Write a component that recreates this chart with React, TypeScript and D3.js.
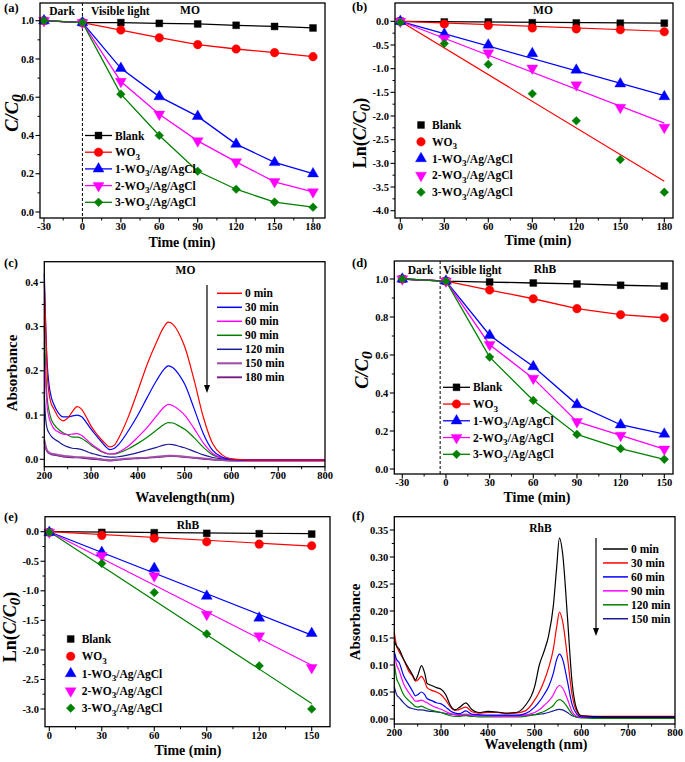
import React from 'react';
import * as d3 from 'd3';

// ---------------- data ----------------
const SERIES_NAMES = ['Blank', 'WO3', '1-WO3/Ag/AgCl', '2-WO3/Ag/AgCl', '3-WO3/Ag/AgCl'];
const SERIES_COLORS = ['#000000', '#ff0000', '#0000ff', '#ff00ff', '#008000'];
const SERIES_SYMBOLS = ['square', 'circle', 'triangle', 'triangleDown', 'diamond'];

// (a) MO  C/C0
const MO_TIMES = [-30, 0, 30, 60, 90, 120, 150, 180];
const MO_BLANK = [1.0, 0.99, 0.99, 0.986, 0.983, 0.976, 0.97, 0.962];
const MO_WO3 = [1.0, 0.99, 0.951, 0.911, 0.875, 0.852, 0.833, 0.812];
const MO_S1 = [1.0, 0.99, 0.751, 0.603, 0.5, 0.355, 0.259, 0.2];
const MO_S2 = [1.0, 0.99, 0.682, 0.511, 0.372, 0.262, 0.158, 0.105];
const MO_S3 = [1.0, 0.99, 0.616, 0.4, 0.213, 0.119, 0.052, 0.025];

// (b) MO  ln(C/C0)
const MO_LN_TIMES = [0, 30, 60, 90, 120, 150, 180];
const MO_LN_BLANK = [0, -0.014, -0.014, -0.03, -0.035, -0.04, -0.04];
const MO_LN_WO3 = [0, -0.056, -0.09, -0.14, -0.16, -0.18, -0.22];
const MO_LN_S1 = [0, -0.27, -0.5, -0.68, -1.03, -1.32, -1.59];
const MO_LN_S2 = [0, -0.36, -0.67, -0.99, -1.345, -1.82, -2.24];
const MO_LN_S3 = [-0.02, -0.47, -0.91, -1.53, -2.1, -2.92, -3.61];
const MO_FIT_END = [-0.04, -0.21, -1.57, -2.15, -3.38]; // fitted value at 180 min
const MO_FIT_COLORS = ['#000000', '#ff0000', '#0000ff', '#ff00ff', '#ff0000'];

// (c) MO spectra
const MO_WL = [200, 203, 206, 210, 215, 220, 230, 240, 250, 260, 270, 280, 290, 300, 310, 320, 330, 340, 350, 360, 380, 400, 420, 440, 455, 465, 475, 490, 500, 520, 540, 560, 580, 600, 650, 700, 800];
const MO_A0 = [0.40, 0.30, 0.20, 0.15, 0.125, 0.115, 0.095, 0.087, 0.093, 0.108, 0.119, 0.113, 0.095, 0.075, 0.06, 0.047, 0.036, 0.028, 0.032, 0.05, 0.097, 0.155, 0.215, 0.265, 0.298, 0.31, 0.305, 0.28, 0.255, 0.18, 0.095, 0.035, 0.01, 0.001, -0.002, -0.002, -0.002];
const MO_A30 = [0.42, 0.30, 0.22, 0.17, 0.14, 0.125, 0.105, 0.096, 0.096, 0.098, 0.1, 0.096, 0.083, 0.068, 0.055, 0.042, 0.03, 0.022, 0.025, 0.035, 0.065, 0.1, 0.14, 0.178, 0.202, 0.211, 0.207, 0.188, 0.17, 0.115, 0.058, 0.02, 0.005, 0.0, -0.002, -0.002, -0.002];
const MO_A60 = [0.24, 0.17, 0.12, 0.095, 0.08, 0.07, 0.062, 0.057, 0.056, 0.057, 0.058, 0.054, 0.045, 0.035, 0.027, 0.02, 0.015, 0.012, 0.013, 0.017, 0.03, 0.05, 0.072, 0.098, 0.117, 0.124, 0.121, 0.11, 0.1, 0.07, 0.037, 0.013, 0.003, 0.0, -0.002, -0.002, -0.002];
const MO_A90 = [0.30, 0.2, 0.14, 0.11, 0.09, 0.08, 0.068, 0.06, 0.055, 0.05, 0.05, 0.047, 0.04, 0.032, 0.025, 0.018, 0.014, 0.012, 0.012, 0.015, 0.024, 0.036, 0.05, 0.066, 0.078, 0.083, 0.082, 0.074, 0.068, 0.049, 0.027, 0.01, 0.003, 0.0, -0.002, -0.002, -0.002];
const MO_A120 = [0.145, 0.09, 0.07, 0.06, 0.052, 0.047, 0.04, 0.033, 0.028, 0.025, 0.024, 0.022, 0.018, 0.014, 0.011, 0.008, 0.006, 0.005, 0.005, 0.006, 0.01, 0.015, 0.021, 0.027, 0.032, 0.034, 0.033, 0.029, 0.026, 0.018, 0.01, 0.004, 0.001, -0.001, -0.002, -0.002, -0.002];
const MO_A150 = [0.045, 0.03, 0.02, 0.016, 0.013, 0.012, 0.01, 0.008, 0.007, 0.006, 0.005, 0.005, 0.004, 0.003, 0.002, 0.001, -0.001, -0.002, -0.001, 0.0, 0.002, 0.003, 0.004, 0.006, 0.007, 0.008, 0.008, 0.007, 0.006, 0.004, 0.002, 0.0, -0.002, -0.003, -0.003, -0.003, -0.003];
const MO_A180 = [0.04, 0.025, 0.018, 0.014, 0.011, 0.01, 0.008, 0.006, 0.005, 0.004, 0.004, 0.003, 0.002, 0.001, 0.0, -0.001, -0.002, -0.003, -0.002, -0.001, 0.001, 0.002, 0.003, 0.005, 0.006, 0.007, 0.007, 0.006, 0.005, 0.003, 0.001, -0.001, -0.002, -0.003, -0.003, -0.003, -0.003];
const MO_SPEC_LABELS = ['0 min', '30 min', '60 min', '90 min', '120 min', '150 min', '180 min'];
const MO_SPEC_COLORS = ['#ff0000', '#0000ff', '#ff00ff', '#008000', '#1c1c96', '#a050a8', '#7a1a8a'];

// (d) RhB  C/C0
const RHB_TIMES = [-30, 0, 30, 60, 90, 120, 150];
const RHB_BLANK = [1.0, 0.989, 0.984, 0.979, 0.974, 0.967, 0.963];
const RHB_WO3 = [1.0, 0.989, 0.942, 0.896, 0.844, 0.812, 0.796];
const RHB_S1 = [1.0, 0.989, 0.704, 0.539, 0.339, 0.233, 0.184];
const RHB_S2 = [1.0, 0.989, 0.654, 0.477, 0.249, 0.177, 0.104];
const RHB_S3 = [1.0, 0.989, 0.589, 0.361, 0.182, 0.107, 0.051];

// (e) RhB  ln(C/C0)
const RHB_LN_TIMES = [0, 30, 60, 90, 120, 150];
const RHB_LN_BLANK = [-0.01, -0.012, -0.017, -0.028, -0.034, -0.04];
const RHB_LN_WO3 = [-0.01, -0.062, -0.11, -0.17, -0.21, -0.237];
const RHB_LN_S1 = [-0.01, -0.35, -0.62, -1.09, -1.46, -1.72];
const RHB_LN_S2 = [-0.01, -0.406, -0.75, -1.4, -1.765, -2.3];
const RHB_LN_S3 = [-0.01, -0.536, -1.03, -1.73, -2.27, -3.0];
const RHB_FIT_END = [-0.034, -0.243, -1.75, -2.26, -2.905]; // fitted value at 150 min

// (f) RhB spectra
const RHB_WL = [200, 205, 210, 220, 230, 240, 245, 250, 258, 265, 270, 280, 290, 300, 310, 320, 330, 340, 353, 365, 380, 400, 420, 440, 460, 480, 500, 510, 520, 530, 540, 547, 553, 560, 570, 580, 590, 600, 650, 700, 750, 800];
const RHB_A0 = [0.145, 0.135, 0.13, 0.11, 0.095, 0.08, 0.072, 0.08, 0.099, 0.085, 0.066, 0.062, 0.058, 0.055, 0.045, 0.025, 0.017, 0.022, 0.03, 0.018, 0.012, 0.014, 0.013, 0.011, 0.012, 0.025, 0.06, 0.1, 0.125, 0.155, 0.21, 0.28, 0.335, 0.305, 0.19, 0.068, 0.018, 0.006, 0.004, 0.004, 0.004, 0.004];
const RHB_A30 = [0.16, 0.135, 0.125, 0.11, 0.09, 0.078, 0.07, 0.072, 0.079, 0.07, 0.058, 0.053, 0.05, 0.045, 0.035, 0.022, 0.016, 0.018, 0.022, 0.014, 0.011, 0.012, 0.012, 0.01, 0.011, 0.015, 0.035, 0.05, 0.07, 0.095, 0.13, 0.17, 0.198, 0.18, 0.115, 0.045, 0.014, 0.006, 0.005, 0.005, 0.005, 0.005];
const RHB_A60 = [0.125, 0.11, 0.105, 0.08, 0.065, 0.05, 0.043, 0.045, 0.05, 0.045, 0.038, 0.034, 0.03, 0.028, 0.022, 0.015, 0.011, 0.01, 0.015, 0.009, 0.008, 0.007, 0.007, 0.007, 0.007, 0.01, 0.022, 0.032, 0.045, 0.06, 0.085, 0.11, 0.12, 0.11, 0.07, 0.027, 0.009, 0.004, 0.003, 0.003, 0.003, 0.003];
const RHB_A90 = [0.12, 0.1, 0.09, 0.065, 0.05, 0.038, 0.033, 0.033, 0.035, 0.032, 0.03, 0.025, 0.021, 0.018, 0.014, 0.01, 0.008, 0.008, 0.009, 0.007, 0.006, 0.006, 0.005, 0.005, 0.005, 0.007, 0.012, 0.017, 0.025, 0.033, 0.045, 0.057, 0.062, 0.057, 0.037, 0.014, 0.005, 0.003, 0.003, 0.003, 0.003, 0.003];
const RHB_A120 = [0.105, 0.075, 0.065, 0.045, 0.035, 0.027, 0.023, 0.022, 0.024, 0.021, 0.019, 0.016, 0.014, 0.012, 0.009, 0.006, 0.005, 0.005, 0.006, 0.005, 0.004, 0.004, 0.004, 0.004, 0.004, 0.005, 0.008, 0.011, 0.014, 0.019, 0.025, 0.033, 0.036, 0.033, 0.022, 0.009, 0.003, 0.002, 0.001, 0.001, 0.001, 0.001];
const RHB_A150 = [0.06, 0.045, 0.04, 0.03, 0.022, 0.019, 0.018, 0.017, 0.017, 0.016, 0.015, 0.014, 0.013, 0.012, 0.01, 0.009, 0.008, 0.007, 0.007, 0.006, 0.006, 0.006, 0.006, 0.006, 0.006, 0.007, 0.008, 0.009, 0.01, 0.012, 0.015, 0.017, 0.018, 0.017, 0.012, 0.006, 0.004, 0.003, 0.003, 0.003, 0.003, 0.003];
const RHB_SPEC_LABELS = ['0 min', '30 min', '60 min', '90 min', '120 min', '150 min'];
const RHB_SPEC_COLORS = ['#000000', '#ff0000', '#0000ff', '#ff00ff', '#008000', '#1c1c96'];

// ---------------- helpers ----------------
const FONT = "'Liberation Serif', 'Times New Roman', serif";
const TICK_FS = 10.5;
const LEG_FS = 11.5;

type Box = { l: number; r: number; t: number; b: number };
type Scale = d3.ScaleLinear<number, number>;

function range(a: number, b: number, step: number) {
  const out: number[] = [];
  const n = Math.round((b - a) / step);
  for (let i = 0; i <= n; i++) out.push(+(a + i * step).toFixed(6));
  return out;
}

function Axes(props: {
  box: Box; x: Scale; y: Scale;
  xMajor: number[]; xMinor: number[]; yMajor: number[]; yMinor: number[];
  xFmt: (v: number) => string; yFmt: (v: number) => string;
}) {
  const { box, x, y, xMajor, xMinor, yMajor, yMinor, xFmt, yFmt } = props;
  return (
    <g>
      <rect x={box.l} y={box.t} width={box.r - box.l} height={box.b - box.t} fill="none" stroke="#000" strokeWidth={1.3} />
      {xMinor.map((v, i) => (
        <line key={'xm' + i} x1={x(v)} x2={x(v)} y1={box.b} y2={box.b + 2.5} stroke="#000" strokeWidth={1} />
      ))}
      {xMajor.map((v, i) => (
        <g key={'xM' + i}>
          <line x1={x(v)} x2={x(v)} y1={box.b} y2={box.b + 4.5} stroke="#000" strokeWidth={1.1} />
          <text x={x(v)} y={box.b + 11.8} textAnchor="middle" fontSize={TICK_FS} fontWeight="bold">{xFmt(v)}</text>
        </g>
      ))}
      {yMinor.map((v, i) => (
        <line key={'ym' + i} x1={box.l} x2={box.l - 2.5} y1={y(v)} y2={y(v)} stroke="#000" strokeWidth={1} />
      ))}
      {yMajor.map((v, i) => (
        <g key={'yM' + i}>
          <line x1={box.l} x2={box.l - 4.5} y1={y(v)} y2={y(v)} stroke="#000" strokeWidth={1.1} />
          <text x={box.l - 6} y={y(v) + 3.6} textAnchor="end" fontSize={TICK_FS} fontWeight="bold">{yFmt(v)}</text>
        </g>
      ))}
    </g>
  );
}

function Marker({ kind, x, y, color }: { kind: string; x: number; y: number; color: string }) {
  let p: string | null = '';
  let rot = 0;
  if (kind === 'square') p = d3.symbol(d3.symbolSquare, 48)();
  else if (kind === 'circle') p = d3.symbol(d3.symbolCircle, 58)();
  else if (kind === 'triangle') p = d3.symbol(d3.symbolTriangle, 52)();
  else if (kind === 'triangleDown') { p = d3.symbol(d3.symbolTriangle, 52)(); rot = 180; }
  else { p = d3.symbol(d3.symbolSquare, 38)(); rot = 45; }
  return <path d={p || ''} transform={`translate(${x},${y}) rotate(${rot})`} fill={color} stroke={color} strokeWidth={0.4} />;
}

function SubLabel({ text, x, y, fs, anchor = 'start' }: { text: string; x: number; y: number; fs: number; anchor?: string }) {
  const idx = text.indexOf('WO3');
  if (idx < 0) return <text x={x} y={y} fontSize={fs} fontWeight="bold" textAnchor={anchor as any}>{text}</text>;
  const before = text.slice(0, idx) + 'WO';
  const after = text.slice(idx + 3);
  return (
    <text x={x} y={y} fontSize={fs} fontWeight="bold" textAnchor={anchor as any}>
      <tspan>{before}</tspan>
      <tspan dy={fs * 0.3} fontSize={fs * 0.8}>3</tspan>
      {after ? <tspan dy={-fs * 0.3}>{after}</tspan> : null}
    </text>
  );
}

function YTitle({ x, y, kind }: { x: number; y: number; kind: string }) {
  const tr = `translate(${x},${y}) rotate(-90)`;
  if (kind === 'cc0') {
    return (
      <text transform={tr} textAnchor="middle" dy="0.35em" fontSize={18.5} fontWeight="bold" fontStyle="italic">
        <tspan>C/C</tspan><tspan dy={4} fontSize={15.5}>0</tspan>
      </text>
    );
  }
  if (kind === 'ln') {
    return (
      <text transform={tr} textAnchor="middle" dy="0.35em" fontSize={18} fontWeight="bold">
        <tspan>Ln(</tspan><tspan fontStyle="italic">C/C</tspan>
        <tspan dy={4} fontSize={15} fontStyle="italic">0</tspan><tspan dy={-4}>)</tspan>
      </text>
    );
  }
  return <text transform={tr} textAnchor="middle" dy="0.35em" fontSize={15} fontWeight="bold">{kind}</text>;
}

function KineticLines(props: { x: Scale; y: Scale; times: number[]; series: number[][]; withLines: boolean }) {
  const { x, y, times, series, withLines } = props;
  const line = d3.line<number>().x((_, i) => x(times[i])).y((d) => y(d));
  return (
    <g>
      {withLines && series.map((s, k) => (
        <path key={'l' + k} d={line(s) || ''} fill="none" stroke={SERIES_COLORS[k]} strokeWidth={1.3} />
      ))}
      {series.map((s, k) => s.map((v, i) => (
        <Marker key={'m' + k + '-' + i} kind={SERIES_SYMBOLS[k]} x={x(times[i])} y={y(v)} color={SERIES_COLORS[k]} />
      )))}
    </g>
  );
}

function FitLines(props: { x: Scale; y: Scale; t1: number; ends: number[]; colors: string[] }) {
  const { x, y, t1, ends, colors } = props;
  return (
    <g>
      {ends.map((e, k) => (
        <line key={k} x1={x(0)} y1={y(0)} x2={x(t1)} y2={y(e)} stroke={colors[k]} strokeWidth={1.2} />
      ))}
    </g>
  );
}

function SeriesLegend(props: { x0: number; y0: number; dy: number; withLines: boolean }) {
  const { x0, y0, dy, withLines } = props;
  return (
    <g>
      {SERIES_NAMES.map((n, k) => {
        const yy = y0 + k * dy;
        return (
          <g key={k}>
            {withLines && <line x1={x0} x2={x0 + 27} y1={yy} y2={yy} stroke={SERIES_COLORS[k]} strokeWidth={1.3} />}
            <Marker kind={SERIES_SYMBOLS[k]} x={withLines ? x0 + 13.5 : x0} y={yy} color={SERIES_COLORS[k]} />
            <SubLabel text={n} x={withLines ? x0 + 30 : x0 + 11} y={yy + 4} fs={LEG_FS} />
          </g>
        );
      })}
    </g>
  );
}

function SpectraLines(props: { x: Scale; y: Scale; wl: number[]; series: number[][]; colors: string[]; widths: number[] }) {
  const { x, y, wl, series, colors, widths } = props;
  const line = d3.line<number>().x((_, i) => x(wl[i])).y((d) => y(d)).curve(d3.curveMonotoneX);
  return (
    <g>
      {series.map((s, k) => (
        <path key={k} d={line(s) || ''} fill="none" stroke={colors[k]} strokeWidth={widths[k]} />
      )).reverse()}
    </g>
  );
}

function SpectraLegend(props: { x0: number; y0: number; dy: number; labels: string[]; colors: string[]; widths: number[]; arrowX: number; arrowY1: number; arrowY2: number }) {
  const { x0, y0, dy, labels, colors, widths, arrowX, arrowY1, arrowY2 } = props;
  return (
    <g>
      <line x1={arrowX} x2={arrowX} y1={arrowY1} y2={arrowY2 - 6} stroke="#000" strokeWidth={1.2} />
      <path d={`M${arrowX - 3},${arrowY2 - 8} L${arrowX + 3},${arrowY2 - 8} L${arrowX},${arrowY2} Z`} fill="#000" />
      {labels.map((lab, k) => (
        <g key={k}>
          <line x1={x0} x2={x0 + 25} y1={y0 + k * dy} y2={y0 + k * dy} stroke={colors[k]} strokeWidth={widths[k] + 0.3} />
          <text x={x0 + 28} y={y0 + k * dy + 4} fontSize={LEG_FS} fontWeight="bold">{lab}</text>
        </g>
      ))}
    </g>
  );
}

const fmtInt = (v: number) => String(v);
const fmt1 = (v: number) => v.toFixed(1);
const fmt2 = (v: number) => v.toFixed(2);

export default function App() {
  // panel boxes
  const bA: Box = { l: 40, r: 325, t: 3, b: 218 };
  const bB: Box = { l: 395, r: 673, t: 3, b: 218 };
  const bC: Box = { l: 44.3, r: 325, t: 261.7, b: 466.7 };
  const bD: Box = { l: 394.3, r: 673, t: 261, b: 474 };
  const bE: Box = { l: 45, r: 330, t: 516.7, b: 726.7 };
  const bF: Box = { l: 394.3, r: 675, t: 516.7, b: 724 };

  const xA = d3.scaleLinear().domain([-30, 180]).range([44, 313]);
  const yA = d3.scaleLinear().domain([0, 1]).range([212, 20.7]);
  const xB = d3.scaleLinear().domain([0, 180]).range([400.3, 664.3]);
  const yB = d3.scaleLinear().domain([-4, 0]).range([210.7, 21.3]);
  const xC = d3.scaleLinear().domain([200, 800]).range([44.3, 325]);
  const yC = d3.scaleLinear().domain([0, 0.4]).range([459.3, 282.3]);
  const xD = d3.scaleLinear().domain([-30, 150]).range([402.3, 664.3]);
  const yD = d3.scaleLinear().domain([0, 1]).range([469, 279]);
  const xE = d3.scaleLinear().domain([0, 150]).range([49.3, 311.7]);
  const yE = d3.scaleLinear().domain([-3, 0]).range([709, 531.7]);
  const xF = d3.scaleLinear().domain([200, 800]).range([394.3, 675]);
  const yF = d3.scaleLinear().domain([0, 0.35]).range([719, 530]);

  const moSpec = [MO_A0, MO_A30, MO_A60, MO_A90, MO_A120, MO_A150, MO_A180];
  const moW = [1.2, 1.2, 1.2, 1.2, 1.2, 1.8, 1.6];
  const rhSpec = [RHB_A0, RHB_A30, RHB_A60, RHB_A90, RHB_A120, RHB_A150];
  const rhW = [1.2, 1.2, 1.2, 1.2, 1.2, 1.2];

  return (
    <svg width={685} height={762} viewBox="0 0 685 762" style={{ position: 'absolute', left: 0, top: 0, background: '#fff' }} fontFamily={FONT}>
      <rect x={0} y={0} width={685} height={762} fill="#fff" />

      {/* (a) */}
      <line x1={xA(0)} x2={xA(0)} y1={bA.t} y2={bA.b} stroke="#000" strokeWidth={1} strokeDasharray="3,2" />
      <KineticLines x={xA} y={yA} times={MO_TIMES} series={[MO_BLANK, MO_WO3, MO_S1, MO_S2, MO_S3]} withLines={true} />
      <Axes box={bA} x={xA} y={yA} xMajor={range(-30, 180, 30)} xMinor={range(-15, 165, 30)} yMajor={range(0, 1, 0.2)} yMinor={range(0.1, 0.9, 0.2)} xFmt={fmtInt} yFmt={fmt1} />
      <SeriesLegend x0={85} y0={135.5} dy={16.7} withLines={true} />
      <text x={62} y={15} textAnchor="middle" fontSize={LEG_FS} fontWeight="bold">Dark</text>
      <text x={91} y={15} fontSize={LEG_FS} fontWeight="bold">Visible light</text>
      <text x={190} y={14} textAnchor="middle" fontSize={LEG_FS} fontWeight="bold">MO</text>
      <text x={4} y={12} fontSize={12.5} fontWeight="bold">(a)</text>
      <text x={182} y={246.5} textAnchor="middle" fontSize={14} fontWeight="bold">Time (min)</text>
      <YTitle x={12} y={113} kind="cc0" />

      {/* (b) */}
      <FitLines x={xB} y={yB} t1={180} ends={MO_FIT_END} colors={MO_FIT_COLORS} />
      <KineticLines x={xB} y={yB} times={MO_LN_TIMES} series={[MO_LN_BLANK, MO_LN_WO3, MO_LN_S1, MO_LN_S2, MO_LN_S3]} withLines={false} />
      <Axes box={bB} x={xB} y={yB} xMajor={range(0, 180, 30)} xMinor={range(15, 165, 30)} yMajor={range(-4, 0, 0.5)} yMinor={range(-3.75, -0.25, 0.5)} xFmt={fmtInt} yFmt={fmt1} />
      <SeriesLegend x0={421} y0={125} dy={16.8} withLines={false} />
      <text x={543} y={14} textAnchor="middle" fontSize={LEG_FS} fontWeight="bold">MO</text>
      <text x={352} y={11} fontSize={12.5} fontWeight="bold">(b)</text>
      <text x={538} y={245} textAnchor="middle" fontSize={14} fontWeight="bold">Time (min)</text>
      <YTitle x={360} y={133} kind="ln" />

      {/* (c) */}
      <SpectraLines x={xC} y={yC} wl={MO_WL} series={moSpec} colors={MO_SPEC_COLORS} widths={moW} />
      <Axes box={bC} x={xC} y={yC} xMajor={range(200, 800, 100)} xMinor={range(250, 750, 100)} yMajor={range(0, 0.4, 0.1)} yMinor={range(0.05, 0.35, 0.1)} xFmt={fmtInt} yFmt={fmt1} />
      <SpectraLegend x0={217} y0={293.3} dy={14} labels={MO_SPEC_LABELS} colors={MO_SPEC_COLORS} widths={moW} arrowX={207} arrowY1={285} arrowY2={393} />
      <text x={185.5} y={274} textAnchor="middle" fontSize={LEG_FS} fontWeight="bold">MO</text>
      <text x={4} y={267} fontSize={12.5} fontWeight="bold">(c)</text>
      <text x={185} y={502} textAnchor="middle" fontSize={14} fontWeight="bold">Wavelength(nm)</text>
      <YTitle x={12} y={373} kind="Absorbance" />

      {/* (d) */}
      <line x1={xD(-4)} x2={xD(-4)} y1={bD.t} y2={bD.b} stroke="#000" strokeWidth={1} strokeDasharray="3,2" />
      <KineticLines x={xD} y={yD} times={RHB_TIMES} series={[RHB_BLANK, RHB_WO3, RHB_S1, RHB_S2, RHB_S3]} withLines={true} />
      <Axes box={bD} x={xD} y={yD} xMajor={range(-30, 150, 30)} xMinor={range(-15, 135, 30)} yMajor={range(0, 1, 0.2)} yMinor={range(0.1, 0.9, 0.2)} xFmt={fmtInt} yFmt={fmt1} />
      <SeriesLegend x0={443} y0={387.3} dy={16.75} withLines={true} />
      <text x={420.5} y={274} textAnchor="middle" fontSize={LEG_FS} fontWeight="bold">Dark</text>
      <text x={443} y={274} fontSize={LEG_FS} fontWeight="bold">Visible light</text>
      <text x={545} y={273} textAnchor="middle" fontSize={LEG_FS} fontWeight="bold">RhB</text>
      <text x={352} y={267} fontSize={12.5} fontWeight="bold">(d)</text>
      <text x={537} y={502} textAnchor="middle" fontSize={14} fontWeight="bold">Time (min)</text>
      <YTitle x={362} y={370} kind="cc0" />

      {/* (e) */}
      <FitLines x={xE} y={yE} t1={150} ends={RHB_FIT_END} colors={SERIES_COLORS} />
      <KineticLines x={xE} y={yE} times={RHB_LN_TIMES} series={[RHB_LN_BLANK, RHB_LN_WO3, RHB_LN_S1, RHB_LN_S2, RHB_LN_S3]} withLines={false} />
      <Axes box={bE} x={xE} y={yE} xMajor={range(0, 150, 30)} xMinor={range(15, 135, 30)} yMajor={range(-3, 0, 0.5)} yMinor={range(-2.75, -0.25, 0.5)} xFmt={fmtInt} yFmt={fmt1} />
      <SeriesLegend x0={70.7} y0={639} dy={17.3} withLines={false} />
      <text x={188} y={528.5} textAnchor="middle" fontSize={LEG_FS} fontWeight="bold">RhB</text>
      <text x={4} y={521} fontSize={12.5} fontWeight="bold">(e)</text>
      <text x={188} y={755} textAnchor="middle" fontSize={14} fontWeight="bold">Time (min)</text>
      <YTitle x={10} y={627} kind="ln" />

      {/* (f) */}
      <SpectraLines x={xF} y={yF} wl={RHB_WL} series={rhSpec} colors={RHB_SPEC_COLORS} widths={rhW} />
      <Axes box={bF} x={xF} y={yF} xMajor={range(200, 800, 100)} xMinor={range(250, 750, 100)} yMajor={range(0, 0.35, 0.05)} yMinor={range(0.025, 0.325, 0.05)} xFmt={fmtInt} yFmt={fmt2} />
      <SpectraLegend x0={603} y0={549} dy={13.95} labels={RHB_SPEC_LABELS} colors={RHB_SPEC_COLORS} widths={rhW} arrowX={596} arrowY1={538} arrowY2={636} />
      <text x={540.5} y={532} textAnchor="middle" fontSize={LEG_FS} fontWeight="bold">RhB</text>
      <text x={352} y={520} fontSize={12.5} fontWeight="bold">(f)</text>
      <text x={536} y={748.5} textAnchor="middle" fontSize={14} fontWeight="bold">Wavelength (nm)</text>
      <YTitle x={355} y={622} kind="Absorbance" />
    </svg>
  );
}
